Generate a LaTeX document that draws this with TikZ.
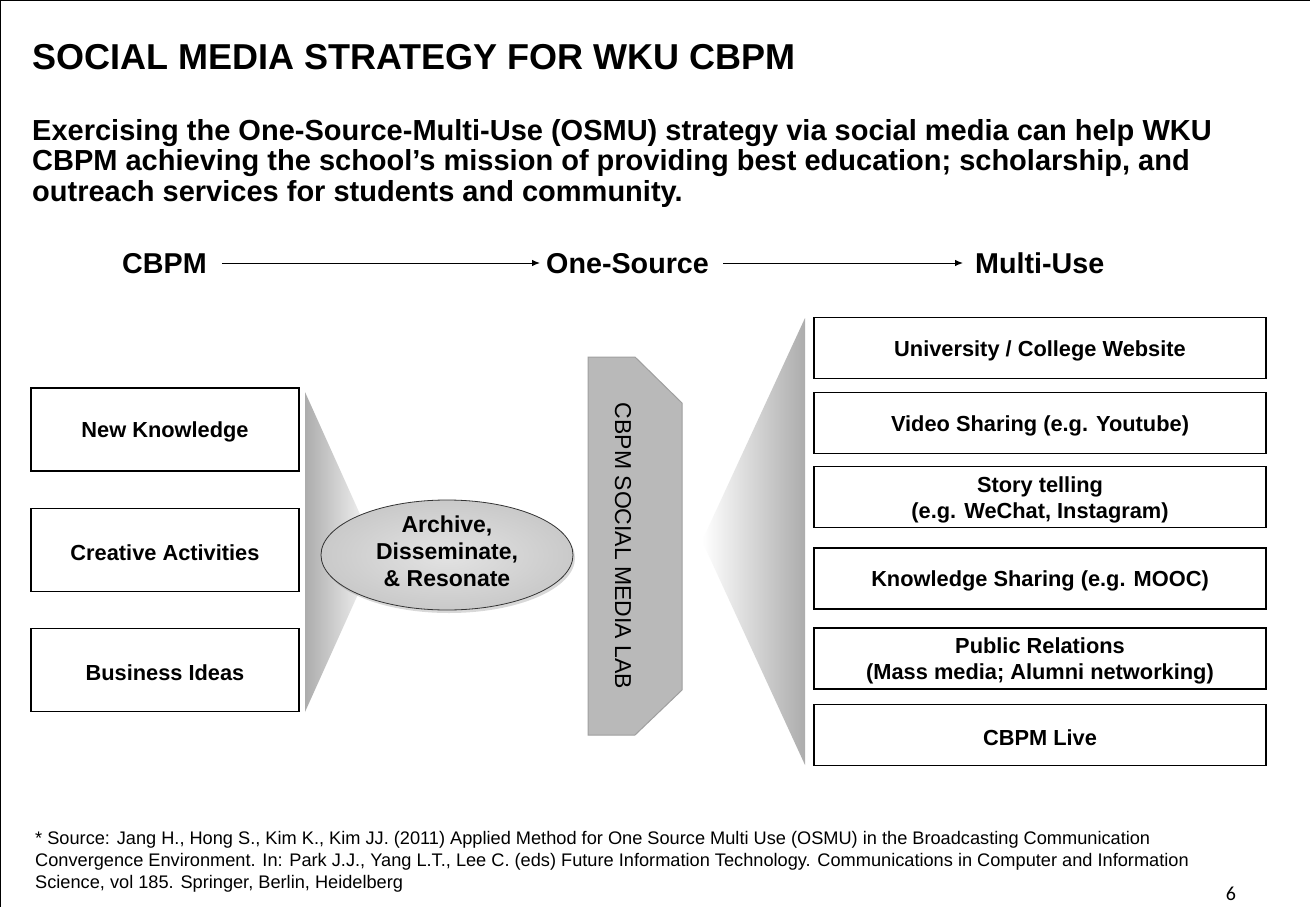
\documentclass[tikz,border=0pt]{standalone}
\usepackage{fontspec}
\setmainfont{Liberation Sans}
\newfontfamily\pagenumfont{Carlito}
\usetikzlibrary{shapes.geometric,shadows,arrows.meta}
\begin{document}
\begin{tikzpicture}[x=1pt,y=-1pt,
  boxL/.style={draw=black,line width=1.8pt,minimum width=268pt,minimum height=83pt,inner sep=0pt},
  boxR/.style={draw=black,line width=1.8pt,minimum width=452pt,minimum height=61pt,inner sep=0pt},
  boxtext/.style={inner sep=0pt,font=\bfseries\fontsize{21.8}{26}\selectfont,align=center},
  head/.style={font=\bfseries\fontsize{28.7}{30}\selectfont,inner sep=0pt,anchor=west,text height=20.6pt,text depth=0pt},
  arr/.style={line width=1pt,-{Latex[length=8pt,width=6.5pt]}},
]
\useasboundingbox (0,0) rectangle (1310,907);
\fill[white] (0,0) rectangle (1310,907);
\draw[line width=1.5pt] (0,907) -- (0,0) -- (1310,0);

% title
\node[anchor=base west,inner sep=0pt,font=\bfseries\fontsize{36}{40}\selectfont] (title) at (32,70) {SOCIAL MEDIA STRATEGY FOR WKU CBPM};
\node[anchor=north west,inner sep=0pt,align=left,font=\bfseries\fontsize{29}{30.5}\selectfont] (sub) at (32,119)
 {Exercising the One-Source-Multi-Use (OSMU) strategy via social media can help WKU\\
  CBPM achieving the school’s mission of providing best education; scholarship, and\\
  outreach services for students and community.};

% headings
\node[head] (cbpm) at (122,263) {CBPM};
\node[head] (one) at (546,263) {One-Source};
\node[head] (multi) at (975,263) {Multi-Use};
\draw[arr,shorten <=15pt,shorten >=6pt] (cbpm) -- (one);
\draw[arr,shorten <=14pt,shorten >=12pt] (one) -- (multi);

% funnels
\shade[left color=gray!65,right color=white] (305,392) -- (377,552) -- (305,712) -- cycle;
\shade[left color=white,right color=gray!65] (805,318) -- (702,541) -- (805,765) -- cycle;

% left boxes
\node[boxL] (nk) at (165,429.5) {};
\node[boxL] (ca) at (165,550) {};
\node[boxL] (bi) at (165,670) {};
\node[boxtext] (nkt) at ([yshift=-2.5pt]nk.center) {New Knowledge};
\node[boxtext] (cat) at ([yshift=-2.5pt]ca.center) {Creative Activities};
\node[boxtext] (bit) at ([yshift=-2.5pt]bi.center) {Business Ideas};

% ellipse
\node[ellipse,draw=gray!40!black,line width=0.8pt,minimum width=252pt,minimum height=110pt,inner sep=0pt,
  inner color=gray!22,outer color=gray!42,drop shadow={shadow xshift=2pt,shadow yshift=-3pt,opacity=0.3}] (ell) at (447,555) {};
\node[inner sep=0pt,align=center,font=\bfseries\fontsize{23}{27}\selectfont] (ellt) at ([yshift=4pt]ell.center) {Archive,\\Disseminate,\\\& Resonate};

% social media lab shape
\shade[draw=gray!75,line width=1pt,left color=gray!55,middle color=white,right color=gray!55]
  (588,357) -- (635,357) -- (682,403) -- (682,690) -- (635,735) -- (588,735) -- cycle;
\node[rotate=-90,inner sep=0pt,font=\fontsize{23}{25}\selectfont] (lab) at (623,546) {CBPM SOCIAL MEDIA LAB};

% right boxes
\node[boxR] (r1) at (1040,348) {};
\node[boxR] (r2) at (1040,423) {};
\node[boxR] (r3) at (1040,497) {};
\node[boxR] (r4) at (1040,578.5) {};
\node[boxR] (r5) at (1040,658.5) {};
\node[boxR] (r6) at (1040,735) {};
\node[boxtext] (r1t) at ([yshift=-2.5pt]r1.center) {University / College Website};
\node[boxtext] (r2t) at ([yshift=-2.5pt]r2.center) {Video Sharing (e.g. Youtube)};
\node[boxtext] (r3t) at ([yshift=-2.5pt]r3.center) {Story telling\\(e.g. WeChat, Instagram)};
\node[boxtext] (r4t) at ([yshift=-2.5pt]r4.center) {Knowledge Sharing (e.g. MOOC)};
\node[boxtext] (r5t) at ([yshift=-2.5pt]r5.center) {Public Relations\\(Mass media; Alumni networking)};
\node[boxtext] (r6t) at ([yshift=-2.5pt]r6.center) {CBPM Live};

% footnote
\node[anchor=north west,inner sep=0pt,align=left,font=\fontsize{18.2}{22}\selectfont] (src) at (35,831)
 {* Source: Jang H., Hong S., Kim K., Kim JJ. (2011) Applied Method for One Source Multi Use (OSMU) in the Broadcasting Communication\\
  Convergence Environment. In: Park J.J., Yang L.T., Lee C. (eds) Future Information Technology. Communications in Computer and Information\\
  Science, vol 185. Springer, Berlin, Heidelberg};
\node[anchor=base,inner sep=0pt,font=\pagenumfont\fontsize{20}{22}\selectfont] (pg) at (1231,900) {6};
\end{tikzpicture}
\end{document}
